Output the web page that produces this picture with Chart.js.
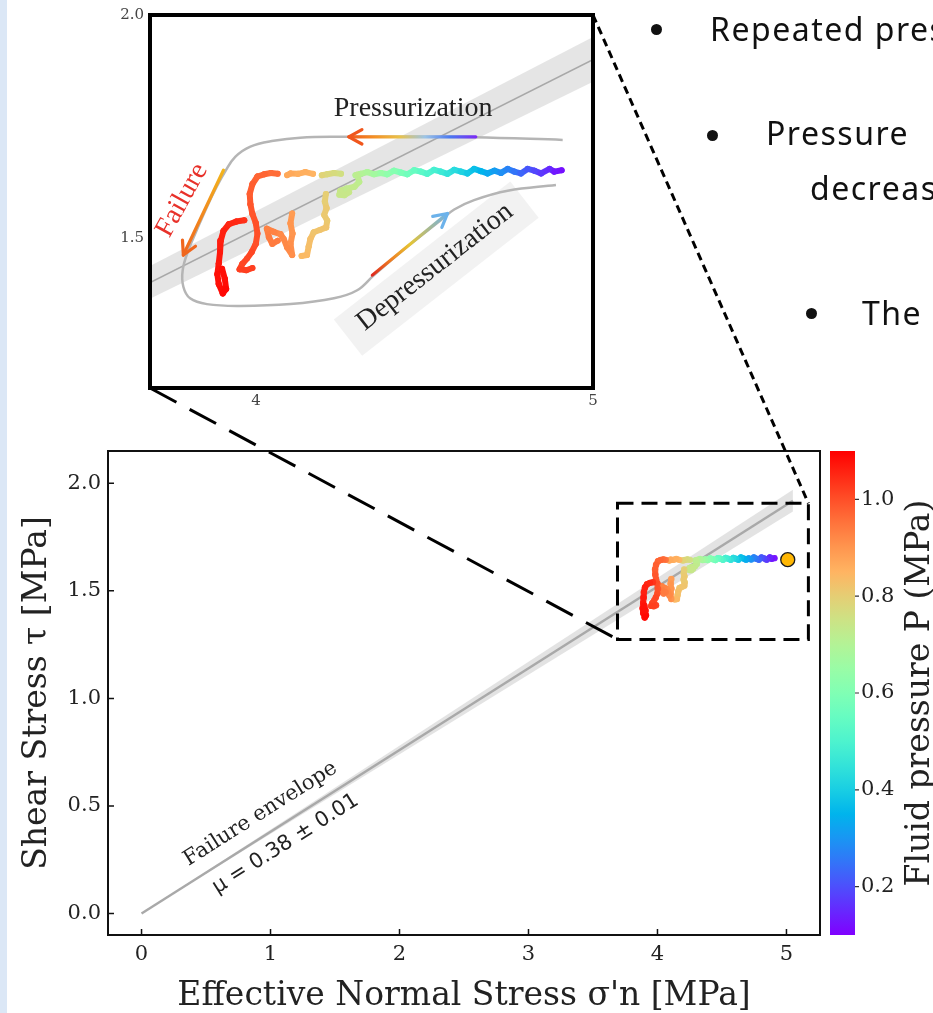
<!DOCTYPE html>
<html>
<head>
<meta charset="utf-8">
<title>Stress path</title>
<script src="https://cdn.jsdelivr.net/npm/chart.js@4.4.1/dist/chart.umd.min.js"></script>
<style>
  html, body { margin: 0; padding: 0; background: #fff; }
  body { position: relative; width: 933px; height: 1013px; overflow: hidden; }
  .strip { position: absolute; left: 0; top: 0; width: 7px; height: 1013px; background: #dbe7f6; }
  canvas { position: absolute; }
  #mainChart { left: 0; top: 0; z-index: 1; }
  #insetChart { left: 100px; top: 0; z-index: 2; }
  .bullet { position: absolute; z-index: 3; white-space: nowrap; font-family: 'Noto Sans', sans-serif; font-size: 32px; line-height: 32px; letter-spacing: 1.5px; color: #111; }
  .dot { position: absolute; z-index: 3; width: 11px; height: 11px; border-radius: 50%; background: #111; }
</style>
</head>
<body>
<div class="strip"></div>
<canvas id="mainChart" width="933" height="1013"></canvas>
<canvas id="insetChart" width="510" height="420"></canvas>

<div class="dot" style="left:651px; top:24px"></div>
<div class="bullet" style="left:710px; top:13px">Repeated pressurization</div>
<div class="dot" style="left:707px; top:130px"></div>
<div class="bullet" style="left:766px; top:117px">Pressure</div>
<div class="bullet" style="left:810px; top:172px">decreases</div>
<div class="dot" style="left:806px; top:308px"></div>
<div class="bullet" style="left:862px; top:297px">The</div>

<script>
// ---- axes ----
const xTicks = [0, 1, 2, 3, 4, 5];
const yTicks = [0.0, 0.5, 1.0, 1.5, 2.0];
const pTicks = [0.2, 0.4, 0.6, 0.8, 1.0];
const insetXTicks = [4, 5];
const insetYTicks = [1.5, 2.0];

// ---- failure envelope, mu = 0.38 +/- 0.01 ----
const envX = [0, 5.05];
const envY = [0, 1.919];
const envLo = [0, 1.869];
const envHi = [0, 1.970];

// ---- stress path; null splits the recorded stretches ----
const pathX = [
  4.907, 4.885, 4.871, 4.846, 4.826, 4.806, 4.786, 4.766, 4.747, 4.727, 4.707, 4.687, 4.667, 4.647, 4.627, 4.608,
  4.588, 4.568, 4.548, 4.528, 4.508, 4.489, 4.469, 4.449, 4.429, 4.409, 4.389, 4.370, 4.350, 4.330, 4.310, 4.295, null,
  4.300, 4.306, 4.292, 4.268, 4.250, 4.247, 4.262, 4.276, null,
  4.252, 4.231, 4.211, 4.195, null,
  4.207, 4.204, 4.209, 4.202, 4.211, 4.208, 4.189, 4.171, 4.161, 4.156, 4.151, 4.135, null,
  4.169, 4.146, 4.124, 4.102, 4.092, null,
  4.107, 4.102, 4.108, 4.102, 4.107, 4.092, 4.082, 4.072, 4.052, 4.032, 4.038, 4.048, 4.064, null,
  4.064, 4.044, 4.024, 4.004, 3.989, 3.981, 3.983, 3.989, 3.999, 4.004, 3.999, 3.987, 3.973, 3.959, 3.951, 3.971, 3.989, null,
  3.965, 3.941, 3.919, 3.903, 3.895, 3.893, 3.889, 3.885, 3.889, 3.901, 3.911, 3.907, 3.899
];
const pathY = [
  1.652, 1.649, 1.655, 1.645, 1.651, 1.655, 1.645, 1.649, 1.655, 1.646, 1.651, 1.645, 1.650, 1.655, 1.645, 1.649,
  1.653, 1.644, 1.649, 1.653, 1.644, 1.649, 1.652, 1.643, 1.647, 1.651, 1.643, 1.646, 1.643, 1.648, 1.644, 1.641, null,
  1.642, 1.626, 1.615, 1.611, 1.606, 1.597, 1.596, 1.603, null,
  1.644, 1.646, 1.643, 1.641, null,
  1.599, 1.582, 1.567, 1.552, 1.539, 1.524, 1.518, 1.513, 1.498, 1.481, 1.462, 1.460, null,
  1.644, 1.648, 1.644, 1.645, 1.641, null,
  1.555, 1.533, 1.510, 1.487, 1.462, 1.479, 1.498, 1.509, 1.514, 1.521, 1.502, 1.487, 1.494, null,
  1.644, 1.646, 1.643, 1.638, 1.621, 1.599, 1.576, 1.554, 1.534, 1.510, 1.487, 1.469, 1.454, 1.442, 1.430, 1.428, 1.433, null,
  1.540, 1.537, 1.531, 1.516, 1.494, 1.469, 1.443, 1.419, 1.397, 1.376, 1.386, 1.409, 1.431
];
const pathP = [
  0.12, 0.13, 0.15, 0.17, 0.19, 0.21, 0.23, 0.25, 0.27, 0.29, 0.31, 0.33, 0.35, 0.37, 0.39, 0.41,
  0.43, 0.45, 0.47, 0.49, 0.51, 0.53, 0.55, 0.57, 0.59, 0.61, 0.63, 0.65, 0.67, 0.69, 0.70, 0.71, null,
  0.72, 0.72, 0.73, 0.73, 0.74, 0.74, 0.74, 0.74, null,
  0.76, 0.77, 0.78, 0.79, null,
  0.80, 0.80, 0.81, 0.81, 0.81, 0.82, 0.82, 0.82, 0.83, 0.83, 0.84, 0.84, null,
  0.85, 0.86, 0.86, 0.87, 0.87, null,
  0.89, 0.90, 0.90, 0.91, 0.91, 0.92, 0.92, 0.92, 0.93, 0.93, 0.94, 0.94, 0.94, null,
  0.96, 0.96, 0.97, 0.97, 0.98, 0.98, 0.99, 0.99, 1.00, 1.00, 1.00, 1.01, 1.01, 1.01, 1.02, 1.02, 1.02, null,
  1.04, 1.05, 1.05, 1.06, 1.06, 1.07, 1.07, 1.08, 1.08, 1.09, 1.09, 1.08, 1.08
];

// initial state before pressurization
const startX = [5.01];
const startY = [1.645];

// region shown in the zoomed view
const zoomBoxX = [3.69, 5.17];
const zoomBoxY = [1.274, 1.907];

// ---- schematic cycle in the zoomed view ----
const loopX = [4.910, 4.647, 4.449, 4.250, 4.131, 4.052, 3.983, 3.938, 3.908, 3.883, 3.854, 3.824, 3.799, 3.782,
  3.784, 3.804, 3.854, 3.953, 4.102, 4.231, 4.300, 4.350, 4.449, 4.548, 4.588, 4.647, 4.747, 4.890];
const loopY = [1.720, 1.726, 1.727, 1.727, 1.725, 1.718, 1.705, 1.682, 1.649, 1.615, 1.570, 1.518, 1.473, 1.428,
  1.391, 1.365, 1.352, 1.348, 1.352, 1.365, 1.383, 1.417, 1.481, 1.540, 1.564, 1.585, 1.606, 1.619];

// arrows as [x0, y0, x1, y1]
const pressArrow = [4.652, 1.727, 4.275, 1.727];
const failArrow = [3.903, 1.652, 3.784, 1.462];
const depressArrow = [4.345, 1.417, 4.568, 1.555];

const SERIF = "'DejaVu Serif', serif";
const SANS = "'DejaVu Sans', sans-serif";
const TIMES = "'Liberation Serif', serif";

// matplotlib "rainbow" colormap
function rainbow(t, a) {
  t = Math.max(0, Math.min(1, t));
  const r = Math.min(1, Math.abs(2 * t - 0.5));
  const g = Math.sin(Math.PI * t);
  const b = Math.cos(Math.PI * t / 2);
  return `rgba(${Math.round(r * 255)},${Math.round(g * 255)},${Math.round(b * 255)},${a})`;
}
const P_MIN = 0.1, P_MAX = 1.1;
const pColor = (p, a = 1) => rainbow((p - P_MIN) / (P_MAX - P_MIN), a);

const xy = (xs, ys) => xs.map((x, i) => ({ x, y: ys[i] }));

function pathDataset(width, radius, alpha) {
  return {
    data: xy(pathX, pathY),
    showLine: true,
    spanGaps: false,
    borderWidth: width,
    borderColor: pColor(0.6, alpha),
    borderCapStyle: 'round',
    borderJoinStyle: 'round',
    segment: {
      borderColor: c => pColor((pathP[c.p0DataIndex] + pathP[c.p1DataIndex]) / 2, alpha)
    },
    pointRadius: radius,
    pointHoverRadius: radius,
    pointBorderWidth: 0,
    pointBackgroundColor: c => pColor(pathP[c.dataIndex] ?? 0.6, alpha)
  };
}

function envelopeDatasets(lineColor, lineWidth, bandColor) {
  return [
    { data: xy(envX, envY), showLine: true, borderColor: lineColor, borderWidth: lineWidth, pointRadius: 0 },
    { data: xy(envX, envHi), showLine: true, borderColor: 'rgba(0,0,0,0)', borderWidth: 1, pointRadius: 0, fill: false },
    { data: xy(envX, envLo), showLine: true, borderColor: 'rgba(0,0,0,0)', borderWidth: 1, pointRadius: 0, fill: '-1', backgroundColor: bandColor }
  ];
}

function rotatedText(ctx, text, x, y, deg, font, color) {
  ctx.save();
  ctx.translate(x, y);
  ctx.rotate(deg * Math.PI / 180);
  ctx.font = font;
  ctx.fillStyle = color;
  ctx.textAlign = 'center';
  ctx.textBaseline = 'middle';
  ctx.fillText(text, 0, 0);
  ctx.restore();
}

function drawArrow(ctx, xs, ys, a, colors) {
  const x0 = xs.getPixelForValue(a[0]), y0 = ys.getPixelForValue(a[1]);
  const x1 = xs.getPixelForValue(a[2]), y1 = ys.getPixelForValue(a[3]);
  const g = ctx.createLinearGradient(x0, y0, x1, y1);
  colors.forEach((c, i) => g.addColorStop(i / (colors.length - 1), c));
  ctx.save();
  ctx.lineWidth = 3.2;
  ctx.lineCap = 'round';
  ctx.lineJoin = 'round';
  ctx.strokeStyle = g;
  ctx.beginPath();
  ctx.moveTo(x0, y0);
  ctx.lineTo(x1, y1);
  ctx.stroke();
  const ang = Math.atan2(y1 - y0, x1 - x0);
  const len = 15, spread = 0.5;
  ctx.strokeStyle = colors[colors.length - 1];
  ctx.beginPath();
  ctx.moveTo(x1 - len * Math.cos(ang - spread), y1 - len * Math.sin(ang - spread));
  ctx.lineTo(x1, y1);
  ctx.lineTo(x1 - len * Math.cos(ang + spread), y1 - len * Math.sin(ang + spread));
  ctx.stroke();
  ctx.restore();
}

const fixedTicks = list => s => { s.ticks = list.map(v => ({ value: v })); };

// ---- zoomed view ----
const insetDecor = {
  id: 'insetDecor',
  beforeDatasetsDraw(chart) {
    const { ctx, chartArea: a, scales: { x, y } } = chart;
    ctx.save();
    ctx.fillStyle = '#fff';
    ctx.fillRect(a.left, a.top, a.right - a.left, a.bottom - a.top);
    // pale box behind the depressurization label
    ctx.translate(x.getPixelForValue(4.531), y.getPixelForValue(1.435));
    ctx.rotate(-38 * Math.PI / 180);
    ctx.fillStyle = 'rgba(215,215,215,0.32)';
    ctx.fillRect(-112, -21, 224, 46);
    ctx.restore();
  },
  afterDatasetsDraw(chart) {
    const { ctx, scales: { x, y } } = chart;
    drawArrow(ctx, x, y, pressArrow, ['#7a2cf5', '#4a78f0', '#9cc4e6', '#e9c24a', '#f59024', '#f0561c']);
    drawArrow(ctx, x, y, failArrow, ['#f3b51c', '#f28a1e', '#f0661c']);
    drawArrow(ctx, x, y, depressArrow, ['#de2a1e', '#ef7f22', '#e6c533', '#a9b990', '#6cb2ea']);
    rotatedText(ctx, 'Pressurization', x.getPixelForValue(4.466), y.getPixelForValue(1.791), 0, `28px ${TIMES}`, '#222');
    rotatedText(ctx, 'Failure', x.getPixelForValue(3.780), y.getPixelForValue(1.585), -61, `28px ${TIMES}`, '#e8312a');
    rotatedText(ctx, 'Depressurization', x.getPixelForValue(4.531), y.getPixelForValue(1.435), -38, `28px ${TIMES}`, '#222');
  },
  afterDraw(chart) {
    const { ctx, chartArea: a } = chart;
    ctx.save();
    ctx.strokeStyle = '#000';
    ctx.lineWidth = 4;
    ctx.strokeRect(a.left, a.top, a.right - a.left, a.bottom - a.top);
    ctx.restore();
  }
};

const insetChart = new Chart(document.getElementById('insetChart'), {
  type: 'scatter',
  data: {
    datasets: [
      pathDataset(6, 3, 1),
      { data: xy(loopX, loopY), showLine: true, tension: 0.4, borderColor: '#b5b5b5', borderWidth: 2.5, pointRadius: 0 },
      ...envelopeDatasets('#a8a8a8', 1.6, 'rgba(190,190,190,0.4)')
    ]
  },
  options: {
    responsive: false,
    animation: false,
    events: [],
    layout: { padding: { top: 15, right: 17, left: 0, bottom: 0 } },
    plugins: { legend: { display: false }, tooltip: { enabled: false } },
    scales: {
      x: {
        type: 'linear', min: 3.685, max: 5.0,
        afterFit: s => { s.height = 32; },
        afterBuildTicks: fixedTicks(insetXTicks),
        grid: { display: false, drawTicks: false }, border: { display: false },
        ticks: { padding: 4, maxRotation: 0, color: '#444', font: { family: SERIF, size: 15 }, callback: v => String(v) }
      },
      y: {
        type: 'linear', min: 1.164, max: 2.0,
        afterFit: s => { s.width = 50; },
        afterBuildTicks: fixedTicks(insetYTicks),
        grid: { display: false, drawTicks: false }, border: { display: false },
        ticks: { padding: 6, color: '#444', font: { family: SERIF, size: 15 }, callback: v => v.toFixed(1) }
      }
    }
  },
  plugins: [insetDecor]
});

// ---- main plot ----
const mainDecor = {
  id: 'mainDecor',
  afterDraw(chart) {
    const { ctx, chartArea: a, scales: { x, y, cb } } = chart;
    ctx.save();

    // frame with inward ticks
    ctx.strokeStyle = '#111';
    ctx.lineWidth = 2;
    ctx.strokeRect(a.left, a.top, a.right - a.left, a.bottom - a.top);
    ctx.lineWidth = 1.5;
    ctx.beginPath();
    xTicks.forEach(v => { const px = x.getPixelForValue(v); ctx.moveTo(px, a.bottom); ctx.lineTo(px, a.bottom - 6); });
    yTicks.forEach(v => { const py = y.getPixelForValue(v); ctx.moveTo(a.left, py); ctx.lineTo(a.left + 6, py); });
    ctx.stroke();

    // envelope labels follow the line's on-screen angle
    const ang = Math.atan2(y.getPixelForValue(envY[1]) - y.getPixelForValue(envY[0]),
                           x.getPixelForValue(envX[1]) - x.getPixelForValue(envX[0])) * 180 / Math.PI;
    rotatedText(ctx, 'Failure envelope', x.getPixelForValue(0.922), y.getPixelForValue(0.463), ang, `21px ${SERIF}`, '#222');
    rotatedText(ctx, 'μ = 0.38 ± 0.01', x.getPixelForValue(1.116), y.getPixelForValue(0.323), ang, `21px ${SANS}`, '#222');

    // colorbar
    const cTop = cb.getPixelForValue(P_MAX), cBot = cb.getPixelForValue(P_MIN);
    const cx0 = cb.left + 10, cx1 = cb.left + 35;
    const grad = ctx.createLinearGradient(0, cBot, 0, cTop);
    for (let i = 0; i <= 20; i++) grad.addColorStop(i / 20, rainbow(i / 20, 1));
    ctx.fillStyle = grad;
    ctx.fillRect(cx0, cTop, cx1 - cx0, cBot - cTop);
    ctx.strokeStyle = '#333';
    ctx.lineWidth = 1.2;
    ctx.beginPath();
    pTicks.forEach(v => { const py = cb.getPixelForValue(v); ctx.moveTo(cx1, py); ctx.lineTo(cx1 + 4, py); });
    ctx.stroke();
    ctx.save();
    ctx.translate(929, (cTop + cBot) / 2);
    ctx.rotate(-Math.PI / 2);
    ctx.font = `33px ${SERIF}`;
    ctx.fillStyle = '#222';
    ctx.textAlign = 'center';
    ctx.textBaseline = 'alphabetic';
    ctx.fillText('Fluid pressure P (MPa)', 0, 0);
    ctx.restore();

    // zoom box and its leader lines to the zoomed view
    const bx0 = x.getPixelForValue(zoomBoxX[0]), bx1 = x.getPixelForValue(zoomBoxX[1]);
    const by0 = y.getPixelForValue(zoomBoxY[0]), by1 = y.getPixelForValue(zoomBoxY[1]);
    ctx.strokeStyle = '#000';
    ctx.lineWidth = 3;
    ctx.setLineDash([16, 8]);
    ctx.strokeRect(bx0, by1, bx1 - bx0, by0 - by1);

    const ia = insetChart.chartArea;
    const ox = insetChart.canvas.offsetLeft, oy = insetChart.canvas.offsetTop;
    ctx.setLineDash([8, 5]);
    ctx.beginPath();
    ctx.moveTo(ox + ia.right, oy + ia.top);
    ctx.lineTo(bx1, by1);
    ctx.stroke();
    ctx.setLineDash([30, 15]);
    ctx.beginPath();
    ctx.moveTo(ox + ia.left, oy + ia.bottom);
    ctx.lineTo(bx0, by0);
    ctx.stroke();
    ctx.restore();
  }
};

new Chart(document.getElementById('mainChart'), {
  type: 'scatter',
  data: {
    datasets: [
      {
        data: xy(startX, startY),
        pointRadius: 7, pointHoverRadius: 7,
        pointBackgroundColor: '#ffb703', pointBorderColor: '#1a1a1a', pointBorderWidth: 1.3
      },
      pathDataset(6, 3.2, 0.85),
      ...envelopeDatasets('#a9a9a9', 2.5, 'rgba(175,175,175,0.35)')
    ]
  },
  options: {
    responsive: false,
    animation: false,
    events: [],
    layout: { padding: { top: 451, left: 0, right: 0, bottom: 0 } },
    plugins: { legend: { display: false }, tooltip: { enabled: false } },
    scales: {
      x: {
        type: 'linear', min: -0.26, max: 5.26,
        afterFit: s => { s.height = 78; },
        afterBuildTicks: fixedTicks(xTicks),
        grid: { display: false, drawTicks: false }, border: { display: false },
        ticks: { padding: 7, maxRotation: 0, color: '#222', font: { family: SERIF, size: 21 }, callback: v => String(v) },
        title: { display: true, text: "Effective Normal Stress σ'n [MPa]", color: '#222',
                 font: { family: SERIF, size: 33, lineHeight: 1 }, padding: { top: 0, bottom: 0 } }
      },
      y: {
        type: 'linear', min: -0.1, max: 2.15,
        afterFit: s => { s.width = 108; },
        afterBuildTicks: fixedTicks(yTicks),
        grid: { display: false, drawTicks: false }, border: { display: false },
        ticks: { padding: 7, color: '#222', font: { family: SERIF, size: 21 }, callback: v => v.toFixed(1) },
        title: { display: true, text: 'Shear Stress τ [MPa]', color: '#222',
                 font: { family: SERIF, size: 33, lineHeight: 1 }, padding: { top: 21, bottom: 0 } }
      },
      cb: {
        type: 'linear', position: 'right', min: P_MIN, max: P_MAX,
        afterFit: s => { s.width = 113; },
        afterBuildTicks: fixedTicks(pTicks),
        grid: { display: false, drawTicks: false }, border: { display: false },
        ticks: { padding: 41, color: '#222', font: { family: SERIF, size: 21 }, callback: v => v.toFixed(1) }
      }
    }
  },
  plugins: [mainDecor]
});
</script>
</body>
</html>
